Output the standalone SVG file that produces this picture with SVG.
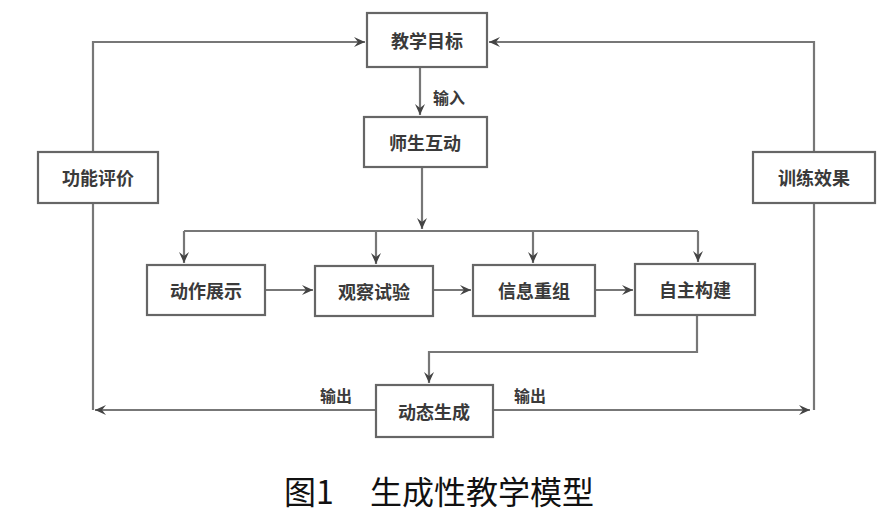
<svg xmlns="http://www.w3.org/2000/svg" width="894" height="517" viewBox="0 0 894 517">
<defs>
<style>
.box{fill:#fff;stroke:#666;stroke-width:2.2}
.t{font-family:"Noto Sans CJK SC","Noto Sans",sans-serif;font-size:18px;font-weight:700;fill:#3a3a3a;text-anchor:middle;dominant-baseline:central}
.lbl{font-family:"Noto Sans CJK SC","Noto Sans",sans-serif;font-size:16px;font-weight:700;fill:#3a3a3a;dominant-baseline:central}
.ln{fill:none;stroke:#777;stroke-width:2.2}
.cap{font-family:"Noto Sans CJK SC","Noto Sans",sans-serif;font-size:32px;font-weight:400;fill:#111;dominant-baseline:central}
</style>
<marker id="ah" viewBox="0 0 12 12" refX="11" refY="6" markerWidth="12" markerHeight="12" markerUnits="userSpaceOnUse" orient="auto">
<path d="M0,1 L11,6 L0,11 L4,6 z" fill="#444"/>
</marker>
</defs>
<rect width="894" height="517" fill="#fff"/>
<g id="connectors">
<path class="ln" d="M420,67 V115" marker-end="url(#ah)"/>
<path class="ln" d="M422,167 V229" marker-end="url(#ah)"/>
<path class="ln" d="M184,231 H698"/>
<path class="ln" d="M184,231 V263" marker-end="url(#ah)"/>
<path class="ln" d="M376,231 V264" marker-end="url(#ah)"/>
<path class="ln" d="M533,231 V263" marker-end="url(#ah)"/>
<path class="ln" d="M698,231 V262" marker-end="url(#ah)"/>
<path class="ln" d="M265,290 H313" marker-end="url(#ah)"/>
<path class="ln" d="M433,290 H471" marker-end="url(#ah)"/>
<path class="ln" d="M595,290 H633" marker-end="url(#ah)"/>
<path class="ln" d="M697,315 V352 H429 V383" marker-end="url(#ah)"/>
<path class="ln" d="M376,410 H95" marker-end="url(#ah)"/>
<path class="ln" d="M493,410 H810" marker-end="url(#ah)"/>
<path class="ln" d="M93,410 V42 H365" marker-end="url(#ah)"/>
<path class="ln" d="M814,410 V42 H489" marker-end="url(#ah)"/>
<text class="lbl" x="433" y="97">输入</text>
<text class="lbl" x="320" y="395">输出</text>
<text class="lbl" x="514" y="395">输出</text>
</g>
<g id="n1"><rect class="box" x="367" y="13" width="120" height="54"/><text class="t" x="427" y="40">教学目标</text></g>
<g id="n2"><rect class="box" x="364" y="117" width="123" height="50"/><text class="t" x="425" y="142">师生互动</text></g>
<g id="n3"><rect class="box" x="147" y="265" width="118" height="50"/><text class="t" x="206" y="290">动作展示</text></g>
<g id="n4"><rect class="box" x="315" y="266" width="118" height="50"/><text class="t" x="374" y="291">观察试验</text></g>
<g id="n5"><rect class="box" x="473" y="265" width="122" height="51"/><text class="t" x="534" y="290">信息重组</text></g>
<g id="n6"><rect class="box" x="635" y="264" width="120" height="51"/><text class="t" x="695" y="289">自主构建</text></g>
<g id="n7"><rect class="box" x="376" y="385" width="117" height="52"/><text class="t" x="434" y="411">动态生成</text></g>
<g id="n8"><rect class="box" x="38" y="152" width="120" height="51"/><text class="t" x="98" y="177">功能评价</text></g>
<g id="n9"><rect class="box" x="753" y="152" width="122" height="51"/><text class="t" x="814" y="177">训练效果</text></g>
<g id="caption"><text class="cap" x="284" y="490">图1</text><text class="cap" x="370" y="490">生成性教学模型</text></g>
</svg>
